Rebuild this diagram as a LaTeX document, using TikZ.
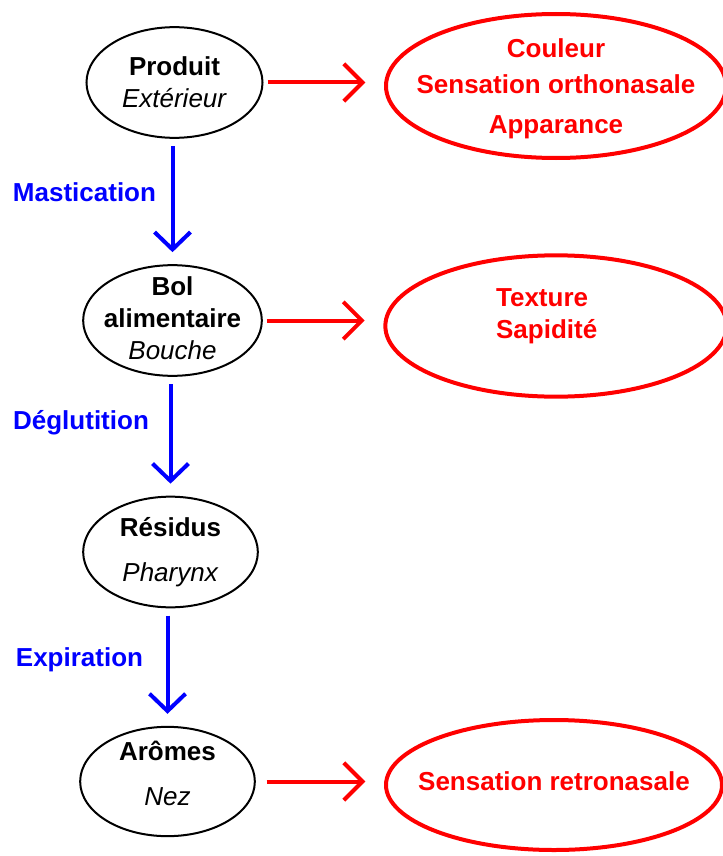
\documentclass[tikz,border=0pt]{standalone}
\usepackage{fontspec}
\setmainfont{Liberation Sans}
\usetikzlibrary{arrows.meta,shapes.geometric}

\begin{document}
\begin{tikzpicture}[x=0.75pt,y=-0.75pt,
  etape/.style={ellipse,draw=black,line width=1.5pt,inner sep=0pt,
    minimum width=132pt,minimum height=83pt},
  etapetexte/.style={align=center,font=\fontsize{19.5}{24}\selectfont},
  sensation/.style={ellipse,draw=red,line width=3pt,inner sep=0pt},
  sensationtexte/.style={align=center,text=red,font=\bfseries\fontsize{19.5}{24}\selectfont},
  etiquette/.style={text=blue,font=\bfseries\fontsize{19.5}{24}\selectfont},
  redarrow/.style={draw=red,line width=3pt,-{Straight Barb[length=14pt,width=28pt]},
    shorten <=3pt,shorten >=14pt},
  bluearrow/.style={draw=blue,line width=3pt,-{Straight Barb[length=13pt,width=27pt]},
    shorten <=5.5pt,shorten >=9pt}]
\useasboundingbox (0,0) rectangle (723,856);

% colonne de gauche
\node[etape,label={[etapetexte]center:\textbf{Produit}\\\textit{Extérieur}}] (produit) at (174.5,82.5) {};
\node[etape,minimum width=134pt,label={[etapetexte,yshift=2pt]center:\textbf{Bol}\\\textbf{alimentaire}\\\textit{Bouche}}] (bol) at (172.5,320.5) {};
\node[etape,minimum width=131pt,label={[etapetexte]center:\textbf{Résidus}\\[10pt]\textit{Pharynx}}] (residus) at (170.5,552) {};
\node[etape,minimum width=131pt,minimum height=82pt,label={[etapetexte,yshift=6pt]center:\textbf{Arômes}\\[10pt]\textit{Nez}}] (aromes) at (167.5,781.5) {};

% sensations
\node[sensation,minimum width=255pt,minimum height=108pt,
  label={[sensationtexte,yshift=-2pt]center:Couleur\\[3pt]Sensation orthonasale\\[6pt]Apparance}] (couleur) at (556,86) {};
\node[sensation,minimum width=256pt,minimum height=106pt,
  label={[sensationtexte,align=left,xshift=-7pt,yshift=7pt]center:Texture\\Sapidité}] (texture) at (556,326) {};
\node[sensation,minimum width=252pt,minimum height=97.5pt,
  label={[sensationtexte,yshift=3pt]center:Sensation retronasale}] (retro) at (554,785) {};

% etapes
\node[etiquette] (mastication) at (84.5,192) {Mastication};
\node[etiquette] (deglutition) at (81,423) {Déglutition};
\node[etiquette] (expiration) at (79.5,660) {Expiration};

\draw[bluearrow] (produit.south -| bol.north) -- (bol.north);
\draw[bluearrow] (bol.south -| residus.north) -- (residus.north);
\draw[bluearrow] (residus.south -| aromes.north) -- (aromes.north);

\draw[redarrow] (produit.east) -- (produit.east -| couleur.west);
\draw[redarrow] (bol.east) -- (bol.east -| texture.west);
\draw[redarrow,shorten <=8pt] (aromes.east) -- (aromes.east -| retro.west);
\end{tikzpicture}
\end{document}
